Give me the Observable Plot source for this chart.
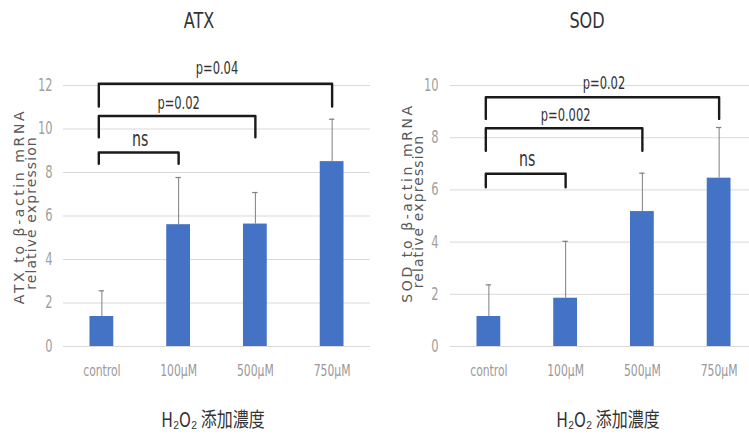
<!DOCTYPE html>
<html><head><meta charset="utf-8">
<script src="https://cdn.jsdelivr.net/npm/d3@7"></script>
<script src="https://cdn.jsdelivr.net/npm/@observablehq/plot@0.6"></script>
<style>
html,body{margin:0;padding:0;background:#fff;overflow:hidden;}
#wrap{position:relative;width:749px;height:440px;}
.panel{position:absolute;top:0;height:440px;overflow:hidden;}
.title{position:absolute;top:8px;transform:translateX(-50%) scaleX(0.85);font-family:"DejaVu Sans Condensed","DejaVu Sans",sans-serif;font-size:21px;color:#333;line-height:26px;white-space:nowrap;}
.chart{position:absolute;top:40px;left:0;width:400px;}
svg{display:block;max-width:none !important;}
</style></head><body>
<div id="wrap">
  <div class="panel" id="p1" style="left:0;width:375px"><div class="title" style="left:199px">ATX</div><div class="chart"></div></div>
  <div class="panel" id="p2" style="left:375px;width:374px"><div class="title" style="left:212px">SOD</div><div class="chart"></div></div>
</div>
<script>
// ---- data ----
const categories = ["control", "100μM", "500μM", "750μM"];
const atxMean = [1.38, 5.6, 5.63, 8.5];
const atxErr = [1.18, 2.17, 1.45, 1.95];
const sodMean = [1.15, 1.85, 5.17, 6.45];
const sodErr = [1.21, 2.18, 1.47, 1.94];
const atxTicks = [0, 2, 4, 6, 8, 10, 12];
const sodTicks = [0, 2, 4, 6, 8, 10];
const atxLabelLines = ["ATX to β-actin mRNA", "relative expression"];
const sodLabelLines = ["SOD to β-actin mRNA", "relative expression"];
const xTitle = "H₂O₂ 添加濃度";
// significance brackets: compared categories, bracket top, leg bottom, label, label position
const atxBrFrom = [0, 0, 0];
const atxBrTo = [1, 2, 3];
const atxBrTop = [8.92, 10.6, 12.08];
const atxBrLeg = [8.4, 9.62, 11.03];
const atxBrLabel = ["ns", "p=0.02", "p=0.04"];
const atxBrLabelY = [9.52, 11.18, 12.79];
const sodBrFrom = [0, 0, 0];
const sodBrTo = [1, 2, 3];
const sodBrTop = [6.62, 8.36, 9.55];
const sodBrLeg = [6.1, 7.5, 8.72];
const sodBrLabel = ["ns", "p=0.002", "p=0.02"];
const sodBrLabelY = [7.18, 8.85, 10.08];

const narrow = '"DejaVu Sans Condensed","DejaVu Sans",sans-serif';

function squeeze(el, s) {
  const tr = el.getAttribute("transform") || "";
  el.setAttribute("transform", (tr + " scale(" + s + ",1)").trim());
  for (const a of ["x", "dx"]) {
    const v = el.getAttribute(a);
    if (v != null && /^-?[\d.]+$/.test(v)) el.setAttribute(a, +v / s);
  }
}

function chart(o) {
  const rows = categories.map((c, i) => ({i, c, mean: o.mean[i], top: o.mean[i] + o.err[i]}));
  const br = o.brFrom.map((f, k) => ({k, from: f, to: o.brTo[k], top: o.brTop[k], leg: o.brLeg[k], label: o.brLabel[k], ly: o.brLabelY[k]}));
  const brPts = br.flatMap(b => [
    {k: b.k, x: b.from - 0.04, y: b.leg},
    {k: b.k, x: b.from - 0.04, y: b.top},
    {k: b.k, x: b.to, y: b.top},
    {k: b.k, x: b.to, y: b.leg}
  ]);
  const svg = Plot.plot({
    width: o.width, height: 400,
    marginTop: 45, marginBottom: 94, marginLeft: o.marginLeft, marginRight: o.marginRight,
    style: {fontFamily: narrow, background: "transparent", overflow: "visible", maxWidth: "none"},
    x: {domain: [-0.5, 3.5], axis: null},
    y: {domain: [0, o.yMax], axis: null},
    marks: [
      Plot.gridY(o.ticks, {stroke: "#d9d9d9", strokeOpacity: 1, strokeWidth: 1}),
      Plot.axisY(o.ticks, {tickSize: 0, tickPadding: o.yPad, fontSize: 17, color: "#a0a0a0", label: null}),
      Plot.axisX([0, 1, 2, 3], {tickSize: 0, tickPadding: 18, fontSize: 16, color: "#999", tickFormat: i => categories[i], label: null}),
      Plot.rectY(rows, {x1: d => d.i - 0.155, x2: d => d.i + 0.155, y: "mean", fill: "#4472c4"}),
      Plot.ruleX(rows, {x: "i", y1: "mean", y2: "top", stroke: "#7f7f7f", strokeWidth: 1}),
      Plot.ruleY(rows, {y: "top", x1: d => d.i - 0.035, x2: d => d.i + 0.035, stroke: "#7f7f7f", strokeWidth: 1.2}),
      Plot.line(brPts, {x: "x", y: "y", z: "k", stroke: "#1a1a1a", strokeWidth: 2.4, strokeLinejoin: "round", strokeLinecap: "round"}),
      Plot.text(br, {x: d => (d.from + d.to) / 2, y: "ly", text: "label", fill: "#333", fontSize: d => d.label === "ns" ? 21 : 17}),
      Plot.text([o.labelLines[0]], {frameAnchor: "left", textAnchor: "middle", lineAnchor: "middle", text: d => d, rotate: -90, dx: o.l1dx, dy: o.l1dy, fontFamily: "DejaVu Sans", fontSize: 14, fill: "#595959"}),
      Plot.text([o.labelLines[1]], {frameAnchor: "left", textAnchor: "middle", lineAnchor: "middle", text: d => d, rotate: -90, dx: o.l2dx, dy: o.l2dy, fontFamily: "DejaVu Sans", fontSize: 14, fill: "#595959"}),
      Plot.text([xTitle], {frameAnchor: "bottom", text: d => d, dy: 80, dx: o.tdx, fontFamily: '"Noto Sans CJK JP", sans-serif', fontSize: 20, fill: "#333"})
    ]
  });
  d3.select(svg).selectAll("text").each(function () {
    const t = this.textContent;
    if (t === o.labelLines[0]) this.style.letterSpacing = "2.6px";
    else if (t === o.labelLines[1]) this.style.letterSpacing = "1.1px";
    else if (t === xTitle) squeeze(this, 0.8);
    else squeeze(this, 0.75);
  });
  return svg;
}

document.querySelector("#p1 .chart").append(chart({
  mean: atxMean, err: atxErr, ticks: atxTicks, yMax: 12,
  brFrom: atxBrFrom, brTo: atxBrTo, brTop: atxBrTop, brLeg: atxBrLeg, brLabel: atxBrLabel, brLabelY: atxBrLabelY,
  labelLines: atxLabelLines, width: 375, marginLeft: 63, marginRight: 5, yPad: 11,
  l1dx: -44, l1dy: -9.5, l2dx: -32, l2dy: -3, tdx: -4
}));
document.querySelector("#p2 .chart").append(chart({
  mean: sodMean, err: sodErr, ticks: sodTicks, yMax: 10,
  brFrom: sodBrFrom, brTo: sodBrTo, brTop: sodBrTop, brLeg: sodBrLeg, brLabel: sodBrLabel, brLabelY: sodBrLabelY,
  labelLines: sodLabelLines, width: 385, marginLeft: 75, marginRight: 3, yPad: 12,
  l1dx: -43, l1dy: -13, l2dx: -32, l2dy: -4.5, tdx: 4
}));
</script>
</body></html>
